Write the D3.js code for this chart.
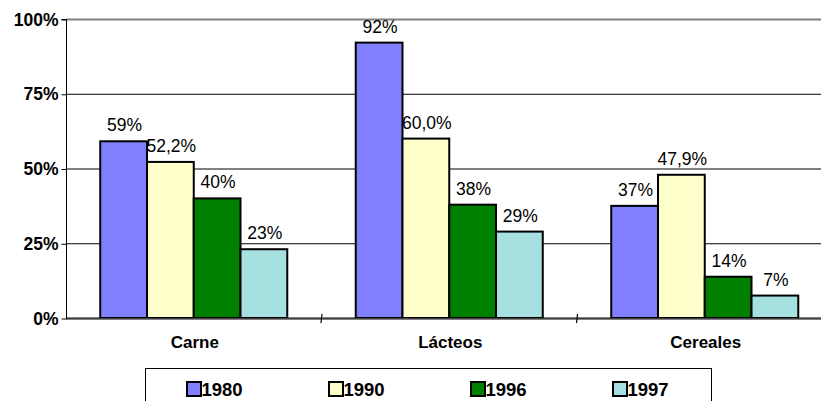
<!DOCTYPE html>
<html><head><meta charset="utf-8">
<script src="https://cdn.jsdelivr.net/npm/d3@7"></script>
<style>body{margin:0;background:#fff}svg{display:block;font-family:"Liberation Sans",Arial,sans-serif}</style>
</head><body><svg id="c" width="821" height="401"></svg>
<script>
const categories = ["Carne", "Lácteos", "Cereales"];
const seriesNames = ["1980", "1990", "1996", "1997"];
const colors = ["#8080FF", "#FFFFCC", "#008000", "#A6E0E0"];
const v1980 = [59.1, 92.1, 37.5];
const v1990 = [52.2, 60.0, 47.9];
const v1996 = [40.0, 37.9, 13.8];
const v1997 = [23.0, 28.9, 7.5];
const labels1980 = ["59%", "92%", "37%"];
const labels1990 = ["52,2%", "60,0%", "47,9%"];
const labels1996 = ["40%", "38%", "14%"];
const labels1997 = ["23%", "29%", "7%"];
const yTicks = [0, 25, 50, 75, 100];
const yTickLabels = ["0%", "25%", "50%", "75%", "100%"];

const values = [v1980, v1990, v1996, v1997];
const labels = [labels1980, labels1990, labels1996, labels1997];

const svg = d3.select("#c");
const pLeft = 66, pTop = 19, pBottom = 318, pRight = 832.5;
const x0 = d3.scaleBand().domain(categories).range([pLeft, pRight]).padding(0);
const cw = x0.bandwidth();
const x1 = d3.scaleBand().domain(seriesNames).range([cw * 0.134, cw * 0.866]).padding(0);
const y = d3.scaleLinear().domain([0, 100]).range([pBottom, pTop]);

// gridlines
svg.append("g").selectAll("line").data(yTicks.filter(t => t > 0 && t < 100)).join("line")
  .attr("x1", pLeft).attr("x2", pRight).attr("y1", d => y(d) + 0.5).attr("y2", d => y(d) + 0.5)
  .attr("stroke", "#000").attr("stroke-width", 1);
// top border
svg.append("line").attr("x1", pLeft).attr("x2", pRight).attr("y1", y(100) + 0.5).attr("y2", y(100) + 0.5)
  .attr("stroke", "#808080").attr("stroke-width", 2);

// bars
const groups = svg.append("g").selectAll("g").data(categories).join("g")
  .attr("transform", d => `translate(${x0(d)},0)`);
groups.each(function(cat, ci) {
  const g = d3.select(this);
  seriesNames.forEach((s, si) => {
    const v = values[si][ci];
    g.append("rect").attr("x", x1(s)).attr("width", x1.bandwidth())
      .attr("y", y(v)).attr("height", y(0) - y(v))
      .attr("fill", colors[si]).attr("stroke", "#000").attr("stroke-width", 2);
    g.append("text").attr("x", x1(s) + x1.bandwidth() / 2 + 1).attr("y", y(v) - 10)
      .attr("text-anchor", "middle").attr("font-size", 17.5).attr("fill", "#000")
      .text(labels[si][ci]);
  });
});

// x axis
svg.append("line").attr("x1", pLeft).attr("x2", pRight).attr("y1", pBottom + 1).attr("y2", pBottom + 1)
  .attr("stroke", "#808080").attr("stroke-width", 2);
svg.append("line").attr("x1", pLeft).attr("x2", pRight).attr("y1", pBottom).attr("y2", pBottom)
  .attr("stroke", "#000").attr("stroke-width", 1);
svg.append("g").selectAll("line").data(categories.slice(1)).join("line")
  .attr("x1", d => x0(d) + 0.5).attr("x2", d => x0(d) - 0.5)
  .attr("y1", pBottom - 4).attr("y2", pBottom + 5).attr("stroke", "#000").attr("stroke-width", 1.2);
svg.append("g").selectAll("text").data(categories).join("text")
  .attr("x", d => x0(d) + cw / 2 + 1).attr("y", 348)
  .attr("text-anchor", "middle").attr("font-size", 17).attr("font-weight", "bold").text(d => d);

// y axis
const yAxis = d3.axisLeft(y).tickValues(yTicks).tickSize(5).tickPadding(3)
  .tickFormat((d, i) => yTickLabels[i]);
const ya = svg.append("g").attr("transform", `translate(${pLeft + 0.5},0.5)`).call(yAxis);
ya.select(".domain").attr("stroke", "#000").attr("d", `M-5,${pTop}H0V${pBottom}`);
ya.selectAll(".tick line").attr("stroke", "#000");
ya.selectAll(".tick text").attr("font-size", 17.5).attr("font-weight", "bold")
  .attr("font-family", "Liberation Sans, Arial, sans-serif").attr("fill", "#000");

// legend
svg.append("rect").attr("x", 145.5).attr("y", 368.5).attr("width", 566).attr("height", 40)
  .attr("fill", "#fff").attr("stroke", "#000").attr("stroke-width", 1);
const lx = d3.scalePoint().domain(seriesNames).range([187, 613]);
const lg = svg.append("g").selectAll("g").data(seriesNames).join("g")
  .attr("transform", d => `translate(${lx(d)},382)`);
lg.append("rect").attr("width", 14).attr("height", 14)
  .attr("fill", (d, i) => colors[i]).attr("stroke", "#000").attr("stroke-width", 2);
lg.append("text").attr("x", 14.5).attr("y", 13.5).attr("font-size", 18.5).attr("font-weight", "bold").text(d => d);
</script></body></html>
